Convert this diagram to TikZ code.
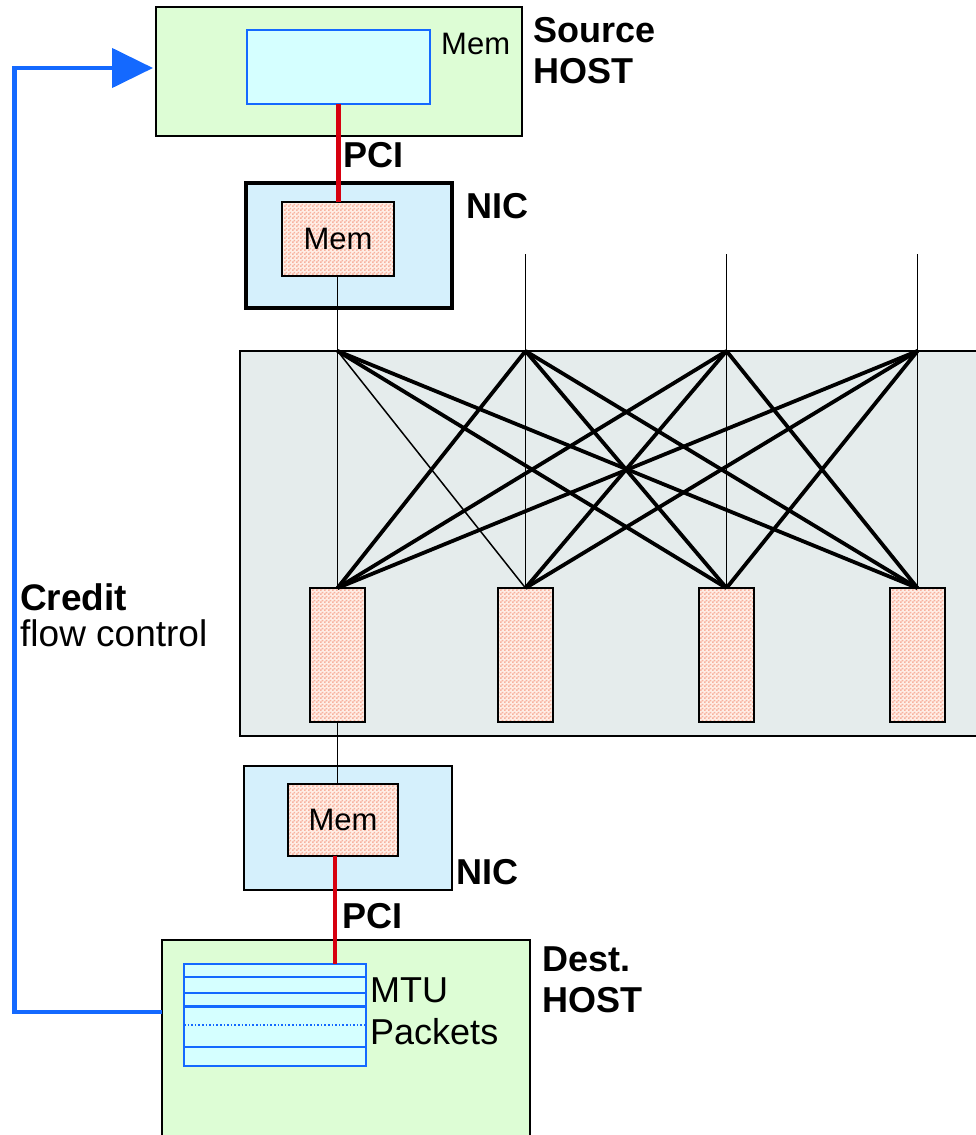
\documentclass[tikz,border=0pt]{standalone}
\usepackage{fontspec}
\setmainfont{Liberation Sans}
\usetikzlibrary{arrows.meta,patterns}
\definecolor{hostgreen}{RGB}{221,253,213}
\definecolor{memcyan}{RGB}{213,255,255}
\definecolor{memblue}{RGB}{20,105,255}
\definecolor{nicblue}{RGB}{213,240,252}
\definecolor{swgray}{RGB}{229,236,236}
\definecolor{pcired}{RGB}{215,0,15}
\definecolor{chkdark}{RGB}{247,178,158}
\definecolor{chklight}{RGB}{255,238,230}
\pgfdeclarepatternformonly{finechk}{\pgfpointorigin}{\pgfqpoint{4pt}{4pt}}{\pgfqpoint{4pt}{4pt}}{%
  \pgfpathrectangle{\pgfpointorigin}{\pgfqpoint{2pt}{2pt}}%
  \pgfpathrectangle{\pgfqpoint{2pt}{2pt}}{\pgfqpoint{2pt}{2pt}}%
  \pgfusepath{fill}}
\begin{document}
\begin{tikzpicture}[x=1pt,y=-1pt,
 box/.style={draw=black,line width=1.6pt,inner sep=0,outer sep=0},
 host/.style={box,fill=hostgreen},
 nic/.style={box,fill=nicblue},
 buf/.style={box,line width=1.5pt,preaction={fill=chklight},preaction={pattern=finechk,pattern color=chkdark}},
 hmem/.style={draw=memblue,line width=1.6pt,fill=memcyan,inner sep=0,outer sep=0},
 big/.style={font=\fontsize{36}{41}\selectfont\bfseries,align=left,inner sep=0,anchor=west},
 reg/.style={font=\fontsize{36}{42}\selectfont,align=left,inner sep=0,anchor=west},
 memtxt/.style={font=\fontsize{31}{36}\selectfont},
 pci/.style={draw=pcired,line width=4.5pt},
 wire/.style={line width=1.5pt},
 xwire/.style={line width=3.8pt},
 credit/.style={draw=memblue,line width=4.5pt,-{Triangle[length=41pt,width=39pt]}}
]
\useasboundingbox (0,0) rectangle (975,1135);
% source host
\node[host,minimum width=366pt,minimum height=129pt] (shost) at (339,71.5) {};
\node[hmem,minimum width=183pt,minimum height=74pt] (smem) at (338.5,67) {};
\node[memtxt,anchor=west,inner sep=0] (smemlbl) at (441,44) {Mem};
\node[big] (shostlbl) at (533,51) {Source\\HOST};
% source NIC
\node[nic,line width=4pt,minimum width=206pt,minimum height=125pt] (snic) at (349,245.5) {};
\node[buf,memtxt,minimum width=112pt,minimum height=74pt] (snmem) at (338,239) {Mem};
\node[big] (snicl) at (466,206) {NIC};
\node[big] (spcil) at (343,155) {PCI};
% switch
\node[box,fill=swgray,minimum width=740pt,minimum height=385pt,anchor=north west] (sw) at (240,351) {};
\foreach \i/\x in {1/337.5,2/525.5,3/726.5,4/917.5}{
  \node[buf,minimum width=55pt,minimum height=134pt,anchor=north] (b\i) at (\x,588) {};
  \coordinate (t\i) at (\x,351);
  \coordinate (u\i) at (\x,254);
}
% dest NIC
\node[nic,minimum width=208pt,minimum height=124pt] (dnic) at (348,828) {};
\node[buf,memtxt,minimum width=110pt,minimum height=72pt] (dnmem) at (343,820) {Mem};
\node[big] (dnicl) at (456,872) {NIC};
\node[big] (dpcil) at (342,916) {PCI};
% dest host
\node[host,minimum width=368pt,minimum height=210pt] (dhost) at (346,1045) {};
\node[hmem,minimum width=182pt,minimum height=102pt] (pk) at (275,1015) {};
\node[reg] (pkl) at (370,1011.5) {MTU\\Packets};
\node[big] (dhostl) at (542,980) {Dest.\\HOST};
\foreach \d in {13,29,83}
  \draw[memblue,line width=1.6pt] ([yshift=-\d pt]pk.north west) -- ([yshift=-\d pt]pk.north east);
\draw[memblue,line width=3pt] ([yshift=-42pt]pk.north west) -- ([yshift=-42pt]pk.north east);
\draw[memblue,line width=1.6pt,dotted] ([yshift=-61pt]pk.north west) -- ([yshift=-61pt]pk.north east);
% credit label
\node[anchor=west,inner sep=0,align=left,font=\fontsize{37}{36}\selectfont] (crl) at (20,615) {\textbf{Credit}\\flow control};
% connectors
\draw[pci] (smem.south) -- (smem.south |- snmem.north);
\draw[pci] ([xshift=-8pt]dnmem.south) -- ([xshift=-8pt]dnmem.south |- pk.north);
\draw[wire] (snmem.south -| t1) -- (t1);
\foreach \i in {2,3,4} \draw[wire] (u\i) -- (t\i);
\foreach \i in {1,2,3,4} \draw[wire] (t\i) -- (b\i.north);
\draw[wire] (t1) -- (b2.north);
\foreach \i/\j in {1/3,1/4,2/1,2/3,2/4,3/1,3/2,3/4,4/1,4/2,4/3}
  \draw[xwire] (t\i) -- (b\j.north);
\draw[wire] (b1.south) -- (b1.south |- dnmem.north);
\coordinate (cs) at (162,1012);
\draw[credit] (cs) -- (14.5,1012) |- ([xshift=-3pt,yshift=3.5pt]shost.west);
\end{tikzpicture}
\end{document}
